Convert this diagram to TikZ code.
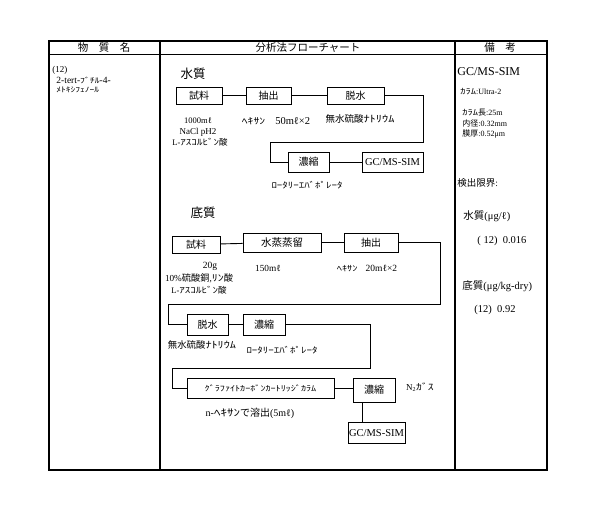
\documentclass[tikz,border=0pt]{standalone}
\usepackage{fontspec}
\setmainfont{Liberation Serif}
\newfontfamily\jp{Noto Sans CJK JP}
\newfontfamily\hw[FakeStretch=1.3]{Noto Sans CJK JP}
\usetikzlibrary{positioning,calc}

\begin{document}
\begin{tikzpicture}[x=1pt, y=-1pt, line width=0.9pt, fs/.style={font=\fontsize{#1}{#1}\selectfont}]
	\tikzstyle{box}=[draw=black, line width=0.9pt, fill=white, inner sep=0pt, fs=10]
	\tikzstyle{lbl}=[inner sep=0pt]
	\tikzstyle{note}=[inner sep=0pt, anchor=west]
	\tikzstyle{head}=[inner sep=0pt, font=\jp\fontsize{10.5}{11}\selectfont]
	\useasboundingbox (0,0) rectangle (595,511);
	% table frame
	\draw[line width=1.3pt] (49,41) rectangle (547,470);
	\draw (49,54) -- (547,54);
	\draw[line width=1.1pt] (160,41) -- (160,470);
	\draw[line width=1.1pt] (455,41) -- (455,470);
	\node[head] (h1) at (104,47.5) {物　質　名};
	\node[head] (h2) at (308,47.5) {分析法フローチャート};
	\node[head] (h3) at (500,47.5) {備　考};
	% substance
	\node[note, fs=9] (n1) at (52,70)  {(12)};
	\node[note, fs=9.5] (n2) at (56,80)  {2-tert-{\hw\fontsize{7.5}{8}\selectfont ﾌﾞﾁﾙ}-4-};
	\node[note, fs=7.3] (n3) at (56,90)  {\hw ﾒﾄｷｼﾌｪﾉｰﾙ};

	% water
	\node[head, font=\jp\fontsize{12.5}{13}\selectfont] (w0) at (193,74) {水質};
	\node[box, minimum width=46, minimum height=17] (s1) at (199,95.5)   {\jp 試料};
	\node[box, minimum width=45, minimum height=17] (s2) at (268.5,95.5) {\jp 抽出};
	\node[box, minimum width=57, minimum height=17] (s3) at (355.5,95.5) {\jp 脱水};
	\node[box, minimum width=41, minimum height=20] (s4) at (308.5,162) {\jp 濃縮};
	\node[box, minimum width=61, minimum height=20, fs=10.5] (s5) at (392.5,162) {GC/MS-SIM};
	\coordinate (w1) at (423,142);
	\coordinate (w2) at (270,142);
	\draw (s1) -- (s2);
	\draw (s2) -- (s3);
	\draw (s3.east) -| (w1) -- (w2) |- (s4.west);
	\draw (s4) -- (s5);
	\node[lbl, fs=8.5] (a1) at (198,121) {1000mℓ};
	\node[lbl, fs=9] (a2) at (198,132) {NaCl pH2};
	\node[lbl, fs=8.5] (a3) at (200,142) {L-{\hw ｱｽｺﾙﾋﾞﾝ}{\jp 酸}};
	\node[lbl, fs=10.5] (a4) at (276,121) {{\hw\fontsize{9}{9}\selectfont ﾍｷｻﾝ}\hspace{10pt}50mℓ×2};
	\node[lbl, fs=9.5] (a5) at (360,119) {{\jp 無水硫酸}{\hw ﾅﾄﾘｳﾑ}};
	\node[lbl, fs=8.4] (a6) at (307,185) {\hw ﾛｰﾀﾘｰｴﾊﾞﾎﾟﾚｰﾀ};

	% sediment
	\node[head, font=\jp\fontsize{12.5}{13}\selectfont] (d0) at (203,213) {底質};
	\node[box, minimum width=48, minimum height=17] (t1) at (196,244.5) {\jp 試料};
	\node[box, minimum width=78, minimum height=19, fs=10.5] (t2) at (282,242.5) {\jp 水蒸蒸留};
	\node[box, minimum width=54, minimum height=19] (t3) at (371,242.5) {\jp 抽出};
	\node[box, minimum width=41, minimum height=21] (t4) at (207.5,324.5) {\jp 脱水};
	\node[box, minimum width=42, minimum height=21] (t5) at (264,324.5) {\jp 濃縮};
	\node[box, minimum width=147, minimum height=20, fs=7.8] (t6) at (260.5,388) {\hw ｸﾞﾗﾌｧｲﾄｶｰﾎﾞﾝｶｰﾄﾘｯｼﾞｶﾗﾑ};
	\node[box, minimum width=42, minimum height=24] (t7) at (374,390) {\jp 濃縮};
	\node[box, minimum width=57, minimum height=21, fs=10.5] (t8) at (376.5,433) {GC/MS-SIM};
	\coordinate (u1) at (440,304);
	\coordinate (u2) at (168,304);
	\coordinate (u3) at (370,368);
	\coordinate (u4) at (172,368);
	\draw (t1) -- (t2);
	\draw (t2) -- (t3);
	\draw (t3.east) -| (u1) -- (u2) |- (t4.west);
	\draw (t4) -- (t5);
	\draw (t5.east) -| (u3) -- (u4) |- (t6.west);
	\draw (t6.east) -- (t6.east -| t7.west);
	\draw ([xshift=-12pt]t7.south) -- ([xshift=-12pt]t7.south |- t8.north);
	\node[lbl, fs=9.5] (b1) at (210,266) {20g};
	\node[lbl, fs=9.2] (b2) at (199,278) {10\%{\jp 硫酸銅},{\hw ﾘﾝ}{\jp 酸}};
	\node[lbl, fs=8.5] (b3) at (199,290) {L-{\hw ｱｽｺﾙﾋﾞﾝ}{\jp 酸}};
	\node[lbl, fs=9.3] (b4) at (268,268) {150mℓ};
	\node[lbl, fs=9.5] (b5) at (367,268) {{\hw\fontsize{8}{8}\selectfont ﾍｷｻﾝ}\hspace{8pt}20mℓ×2};
	\node[lbl, fs=9.4] (b6) at (202,345) {{\jp 無水硫酸}{\hw ﾅﾄﾘｳﾑ}};
	\node[lbl, fs=8.4] (b7) at (282,350) {\hw ﾛｰﾀﾘｰｴﾊﾞﾎﾟﾚｰﾀ};
	\node[lbl, fs=9] (b8) at (420,387) {N\textsubscript{2}{\hw ｶﾞｽ}};
	\node[lbl, fs=10] (b9) at (250,413) {n-{\hw ﾍｷｻﾝ}{\jp で溶出}(5mℓ)};

	% remarks
	\node[note, fs=12] (r1) at (457,72) {GC/MS-SIM};
	\node[note, fs=8] (r2) at (460,92)  {{\hw ｶﾗﾑ}:Ultra-2};
	\node[note, fs=8] (r3) at (462,113) {{\hw ｶﾗﾑ}{\jp 長}:25m};
	\node[note, fs=8] (r4) at (462,123) {{\jp 内径}:0.32mm};
	\node[note, fs=8] (r5) at (462,134) {{\jp 膜厚}:0.52μm};
	\node[note, fs=9.5] (r6) at (457,183) {{\jp 検出限界}:};
	\node[note, fs=10.5] (r7) at (463,216) {{\jp 水質}(μg/ℓ)};
	\node[note, fs=10.5] (r8) at (477,241) {( 12)\ \ 0.016};
	\node[note, fs=10.5] (r9) at (462,286) {{\jp 底質}(μg/kg-dry)};
	\node[note, fs=10.5] (r10) at (474,310) {(12)\ \ 0.92};
\end{tikzpicture}
\end{document}
